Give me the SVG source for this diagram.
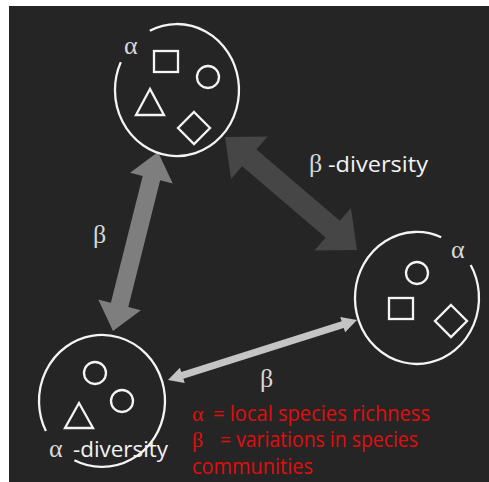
<svg xmlns="http://www.w3.org/2000/svg" width="489" height="482" viewBox="0 0 489 482">
  <style>
    .ring { fill: none; stroke: #f4f4f4; stroke-width: 2.3; }
    .shape { fill: none; stroke: #f4f4f4; stroke-width: 2.3; stroke-linejoin: miter; }
    .greek { font-family: "Liberation Serif", "DejaVu Serif", serif; font-size: 26px; fill: #d8d8d8; }
    .label { font-family: "Open Sans", "Liberation Sans", sans-serif; font-size: 21px; fill: #f2f2f2; }
    .legend { font-family: "Open Sans", "Liberation Sans", sans-serif; font-size: 21px; fill: #e00e0e; }
    .legend-greek { font-family: "Liberation Serif", "DejaVu Serif", serif; font-size: 22px; fill: #e00e0e; }
  </style>

  <!-- background panel -->
  <rect x="0" y="0" width="489" height="482" fill="#ffffff"/>
  <rect x="9" y="6" width="480" height="476" fill="#252525"/>

  <!-- double-headed arrows between communities -->
  <g id="connectors">
    <polygon id="arrow-top-left" fill="#7e7e7e"
      points="158,152 172.75,183.54 160.15,180.37 128.31,307.01 140.91,310.18 113,331 98.25,299.46 110.85,302.63 142.69,175.99 130.09,172.82"/>
    <polygon id="arrow-top-right" fill="#464646"
      points="225,137 231.09,179.08 242.15,166.16 325.55,237.54 314.49,250.46 357,250 350.91,207.92 339.85,220.84 256.45,149.46 267.51,136.54"/>
    <polygon id="arrow-left-right" fill="#c4c4c4"
      points="168,380 184.72,383.08 183.36,378.80 343.76,327.88 345.12,332.16 357,320 340.28,316.92 341.64,321.20 181.24,372.12 179.88,367.84"/>
  </g>

  <!-- community at the top -->
  <g id="community-top">
    <path class="ring" d="M149.8,30.7 A62,66 0 1 1 120.8,62.1"/>
    <text class="greek" x="124" y="54">α</text>
    <rect class="shape" x="154" y="51" width="24" height="21"/>
    <circle class="shape" cx="208" cy="77" r="11"/>
    <polygon class="shape" points="150,89 136,115 164,115"/>
    <polygon class="shape" points="194,112 210,128 194,144 178,128"/>
  </g>

  <!-- community on the right -->
  <g id="community-right">
    <path class="ring" d="M470.7,265 A62,66 0 1 1 441.2,237.2"/>
    <text class="greek" x="451" y="258">α</text>
    <circle class="shape" cx="417" cy="273" r="11"/>
    <rect class="shape" x="389" y="298" width="24" height="21"/>
    <polygon class="shape" points="451,305 467,321 451,337 435,321"/>
  </g>

  <!-- community at the bottom left -->
  <g id="community-bottom">
    <path class="ring" d="M45.9,431 A63,66 0 1 1 74.4,460.3"/>
    <circle class="shape" cx="95" cy="373" r="11"/>
    <circle class="shape" cx="122" cy="401" r="11"/>
    <polygon class="shape" points="79,403 65,428 93,428"/>
  </g>

  <!-- arrow labels -->
  <g id="labels">
    <text class="greek" x="93" y="243">β</text>
    <text class="greek" x="260" y="387">β</text>
    <text class="greek" x="309" y="172">β</text>
    <text class="label" x="328" y="172" textLength="100" lengthAdjust="spacingAndGlyphs">-diversity</text>
    <text class="greek" x="49" y="457">α</text>
    <text class="label" x="73" y="457" textLength="95" lengthAdjust="spacingAndGlyphs">-diversity</text>
  </g>

  <!-- legend -->
  <g id="legend">
    <text class="legend-greek" x="192" y="421">α</text>
    <text class="legend" x="213" y="421" textLength="217" lengthAdjust="spacingAndGlyphs">= local species richness</text>
    <text class="legend-greek" x="192" y="447">β</text>
    <text class="legend" x="220" y="447" textLength="198" lengthAdjust="spacingAndGlyphs">= variations in species</text>
    <text class="legend" x="192" y="474" textLength="121" lengthAdjust="spacingAndGlyphs">communities</text>
  </g>
</svg>
